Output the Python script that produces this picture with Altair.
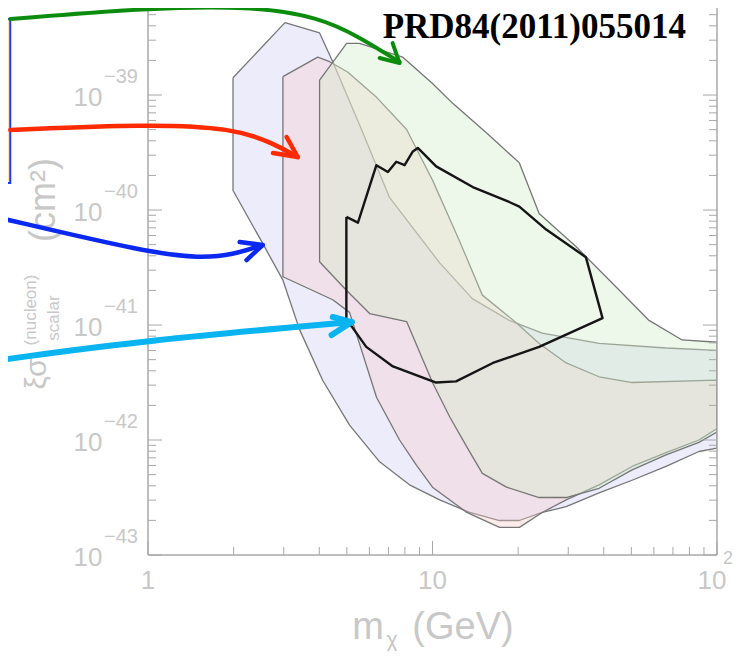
import altair as alt
import pandas as pd

W, H = 569, 547
Y_TOP = -38.243
XS = alt.Scale(type="log", domain=[1, 100])
YS = alt.Scale(type="log", domain=[1e-43, 10 ** Y_TOP])
TXT = "#c8c8c8"
AX = "#a8a8a8"

# ---------------- regions: m (GeV), log10 sigma (cm^2), traced round the outline
blue_m = [1.99, 3.03, 4.01, 4.46, 5.63, 7.06, 10.6, 13.8, 18.6, 24.3, 38.5, 66.2, 100,
          100, 86.4, 66.2, 50.3, 38.5, 29.5, 24.3, 20.2, 17.2, 13.5, 10.6, 8.30, 6.52, 5.11,
          4.11, 3.41, 2.98, 2.53, 1.99]
blue_logs = [-38.85, -38.37, -38.46, -38.71, -39.30, -39.89, -40.46, -40.77, -40.96, -41.07, -41.16, -41.20, -41.22,
             -42.07, -42.10, -42.23, -42.35, -42.46, -42.58, -42.63, -42.70, -42.70, -42.63, -42.52, -42.39,
             -42.19, -41.87, -41.48, -41.04, -40.61, -40.29, -39.83]

red_m = [2.98, 3.95, 4.35, 5.03, 6.36, 8.11, 10.0, 12.4, 14.97, 19.7, 23.7, 29.5, 38.5, 50.3, 100,
         100, 86.4, 66.2, 50.3, 38.5, 29.5, 24.3, 20.2, 17.2, 13.2, 10.0, 8.79, 7.66, 6.36, 5.11, 4.46, 2.98]
red_logs = [-38.84, -38.67, -38.71, -38.80, -39.02, -39.30, -39.74, -40.26, -40.74, -40.98, -41.16, -41.33,
            -41.45, -41.50, -41.48,
            -41.90, -42.00, -42.11, -42.23, -42.39, -42.52, -42.63, -42.76, -42.76, -42.63, -42.41, -42.22,
            -42.00, -41.63, -40.89, -40.78, -40.58]

green_m = [4.01, 4.99, 5.54, 7.85, 10.0, 11.75, 15.5, 20.2, 23.7, 32.0, 44.2, 57.7, 75.4, 100,
           100, 86.4, 66.2, 50.3, 38.5, 29.5, 23.7, 18.2, 14.97, 13.2, 11.5, 10.0, 8.11, 6.01, 4.99, 4.01]
green_logs = [-38.87, -38.55, -38.55, -38.67, -38.90, -39.07, -39.33, -39.59, -40.03, -40.32, -40.67, -40.96,
              -41.13, -41.15,
              -41.93, -42.02, -42.13, -42.26, -42.42, -42.50, -42.50, -42.41, -42.29, -42.06, -41.80, -41.50,
              -40.97, -40.90, -40.70, -40.45]

black_m = [4.98, 5.47, 6.35, 6.97, 7.46, 7.98, 8.53, 8.88, 10.3, 13.85, 18.6, 20.2, 25.1, 34.6, 39.6,
           23.7, 16.3, 12.1, 10.3, 7.26, 5.85, 5.19, 4.98]
black_logs = [-40.06, -40.11, -39.61, -39.67, -39.58, -39.61, -39.49, -39.46, -39.62, -39.80, -39.93, -39.97,
              -40.17, -40.41, -40.94, -41.19, -41.33, -41.49, -41.50, -41.36, -41.19, -41.01, -40.96]

# ---------------- arrows (m, log10 sigma)
green_arrow_m = [0.328, 1.0, 2.28, 4.01, 5.54, 7.66]
green_arrow_l = [-38.339, -38.243, -38.226, -38.322, -38.496, -38.713]
green_head_m = [6.52, 7.66, 7.24]
green_head_l = [-38.678, -38.722, -38.548]

red_arrow_m = [0.328, 1.0, 1.99, 2.75, 3.36]
red_arrow_l = [-39.304, -39.252, -39.287, -39.417, -39.539]
red_head_m = [2.75, 3.36, 3.07]
red_head_l = [-39.504, -39.539, -39.365]

blue_arrow_m = [0.303, 1.016, 1.52, 1.99, 2.53]
blue_arrow_l = [-40.070, -40.374, -40.417, -40.391, -40.304]
blue_head_m = [2.10, 2.53, 2.22]
blue_head_l = [-40.278, -40.304, -40.435]

cyan_arrow_m = [0.303, 1.0, 5.20]
cyan_arrow_l = [-41.304, -41.130, -40.974]
cyan_head_m = [4.46, 5.20, 4.42]
cyan_head_l = [-40.930, -40.974, -41.087]

# ---------------- ticks and labels
y_decades = [-43, -42, -41, -40, -39]
y_sup = ["\u221243", "\u221242", "\u221241", "\u221240", "\u221239"]
minor_mult = [2, 3, 4, 5, 6, 7, 8, 9]
x_major = [1, 10, 100]
x_labels = ["1", "10", "10"]
x_label_dx = [0, 0, -5]


def xenc(field="m"):
    return alt.X(f"{field}:Q", scale=XS, axis=None)


def yenc(field="s"):
    return alt.Y(f"{field}:Q", scale=YS, axis=None)


def path_df(ms, logs, close=False):
    ms = list(ms)
    logs = list(logs)
    if close:
        ms = ms + [ms[0]]
        logs = logs + [logs[0]]
    return pd.DataFrame({"m": ms, "s": [10.0 ** v for v in logs], "i": list(range(len(ms)))})


def region(ms, logs, fill, op, stroke="#767676", width=1.3):
    return alt.Chart(path_df(ms, logs, True)).mark_line(
        fill=fill, fillOpacity=op, stroke=stroke, strokeWidth=width, clip=True, strokeJoin="round"
    ).encode(x=xenc(), y=yenc(), order="i:Q")


def curve(ms, logs, color, width, interp="basis"):
    return alt.Chart(path_df(ms, logs)).mark_line(
        color=color, strokeWidth=width, interpolate=interp, clip=False, strokeCap="round", strokeJoin="round"
    ).encode(x=xenc(), y=yenc(), order="i:Q")


layers = []
layers.append(region(blue_m, blue_logs, "#d2d2f6", 0.42))
layers.append(region(red_m, red_logs, "#f6caca", 0.36))
layers.append(region(green_m, green_logs, "#d4edcb", 0.40))
layers.append(alt.Chart(path_df(black_m, black_logs, True)).mark_line(
    color="#151515", strokeWidth=2.4, clip=True, strokeJoin="round").encode(x=xenc(), y=yenc(), order="i:Q"))

# frame
one = pd.DataFrame({"a": [0]})
layers.append(alt.Chart(one).mark_rule(color=AX, strokeWidth=1.5).encode(x=alt.value(0), y=alt.value(0), y2=alt.value(H)))
layers.append(alt.Chart(one).mark_rule(color=AX, strokeWidth=1.5).encode(x=alt.value(W), y=alt.value(0), y2=alt.value(H)))
layers.append(alt.Chart(one).mark_rule(color=AX, strokeWidth=1.5).encode(x=alt.value(0), x2=alt.value(W), y=alt.value(H)))

ymaj = pd.DataFrame({"v": [10.0 ** d for d in y_decades]})
ymin = pd.DataFrame({"v": [k * 10.0 ** d for d in y_decades for k in minor_mult if k * 10.0 ** d < 10 ** Y_TOP]})
xmaj = pd.DataFrame({"v": x_major})
xmin = pd.DataFrame({"v": [k * d for d in x_major[:2] for k in minor_mult]})

for df, ln in [(ymaj, 14), (ymin, 8)]:
    layers.append(alt.Chart(df).mark_rule(color=AX, strokeWidth=1).encode(y=yenc("v"), x=alt.value(0), x2=alt.value(ln)))
    layers.append(alt.Chart(df).mark_rule(color=AX, strokeWidth=1).encode(y=yenc("v"), x=alt.value(W - ln), x2=alt.value(W)))
for df, ln in [(xmaj, 14), (xmin, 8)]:
    layers.append(alt.Chart(df).mark_rule(color=AX, strokeWidth=1).encode(x=xenc("v"), y=alt.value(H - ln), y2=alt.value(H)))

# y tick labels
ylab = pd.DataFrame({"v": [10.0 ** d for d in y_decades], "t": ["10"] * 5, "sup": y_sup})
layers.append(alt.Chart(ylab).mark_text(font="Liberation Sans", fontSize=26, color=TXT, align="center",
                                         baseline="middle", dy=3).encode(y=yenc("v"), x=alt.value(-60), text="t:N"))
layers.append(alt.Chart(ylab).mark_text(font="Liberation Sans", fontSize=20, color=TXT, align="center",
                                         baseline="middle", dy=-18).encode(y=yenc("v"), x=alt.value(-27), text="sup:N"))
# x tick labels
for v, t, dx in zip(x_major, x_labels, x_label_dx):
    layers.append(alt.Chart(pd.DataFrame({"v": [v], "t": [t]})).mark_text(
        font="Liberation Sans", fontSize=26, color=TXT, align="center", baseline="middle", dx=dx
    ).encode(x=xenc("v"), y=alt.value(573), text="t:N"))
xsup = pd.DataFrame({"v": [100], "t": ["2"]})
layers.append(alt.Chart(xsup).mark_text(font="Liberation Sans", fontSize=18, color=TXT, align="center",
                                         baseline="middle", dx=11).encode(x=xenc("v"), y=alt.value(551), text="t:N"))

# axis titles
def ptxt(t, x, y, size, angle=0):
    return alt.Chart(pd.DataFrame({"t": [t]})).mark_text(
        font="Liberation Sans", fontSize=size, color=TXT, align="center", baseline="middle",
        angle=angle).encode(x=alt.value(x), y=alt.value(y), text="t:N")

layers.append(ptxt("m", 220, 620, 38))
layers.append(ptxt("\u03c7", 244, 632, 22))
layers.append(ptxt("(GeV)", 315, 620, 38))
layers.append(ptxt("\u03be\u03c3", -111, 366, 30, angle=270))
layers.append(ptxt("(nucleon)", -117, 302, 17, angle=270))
layers.append(ptxt("scalar", -94, 310, 17, angle=270))
layers.append(ptxt("(cm\u00b2)", -104, 192, 36, angle=270))

# annotation box and arrows
box = pd.DataFrame({"m0": [0.2], "m1": [0.328], "s0": [10 ** -39.765], "s1": [10 ** -38.339]})
layers.append(alt.Chart(box).mark_rect(fill="#fde3b3", stroke="#1f3cf0", strokeWidth=2, clip=False).encode(
    x=xenc("m0"), x2="m1", y=yenc("s0"), y2="s1"))

for am, al, hm, hl, col, wd in [
    (green_arrow_m, green_arrow_l, green_head_m, green_head_l, "#0c8c0c", 4),
    (red_arrow_m, red_arrow_l, red_head_m, red_head_l, "#ff2a00", 4.5),
    (blue_arrow_m, blue_arrow_l, blue_head_m, blue_head_l, "#0a28f0", 4.5),
    (cyan_arrow_m, cyan_arrow_l, cyan_head_m, cyan_head_l, "#0ab4f0", 6),
]:
    layers.append(curve(am, al, col, wd, "basis"))
    layers.append(curve(hm, hl, col, wd, "linear"))

prd = pd.DataFrame({"m": [6.68], "s": [10 ** -38.505], "t": ["PRD84(2011)055014"]})
layers.append(alt.Chart(prd).mark_text(font="Liberation Serif", fontWeight="bold", fontSize=35, align="left",
                                        baseline="alphabetic", color="black").encode(x=xenc(), y=yenc(), text="t:N"))

chart = alt.layer(*layers).properties(
    width=W, height=H,
    autosize=alt.AutoSizeParams(type="none"),
    padding={"left": 140, "top": 0, "right": 16, "bottom": 96},
    background="white",
).configure_view(stroke=None)

chart.save("out.html", embed_options={"renderer": "svg", "actions": False})
